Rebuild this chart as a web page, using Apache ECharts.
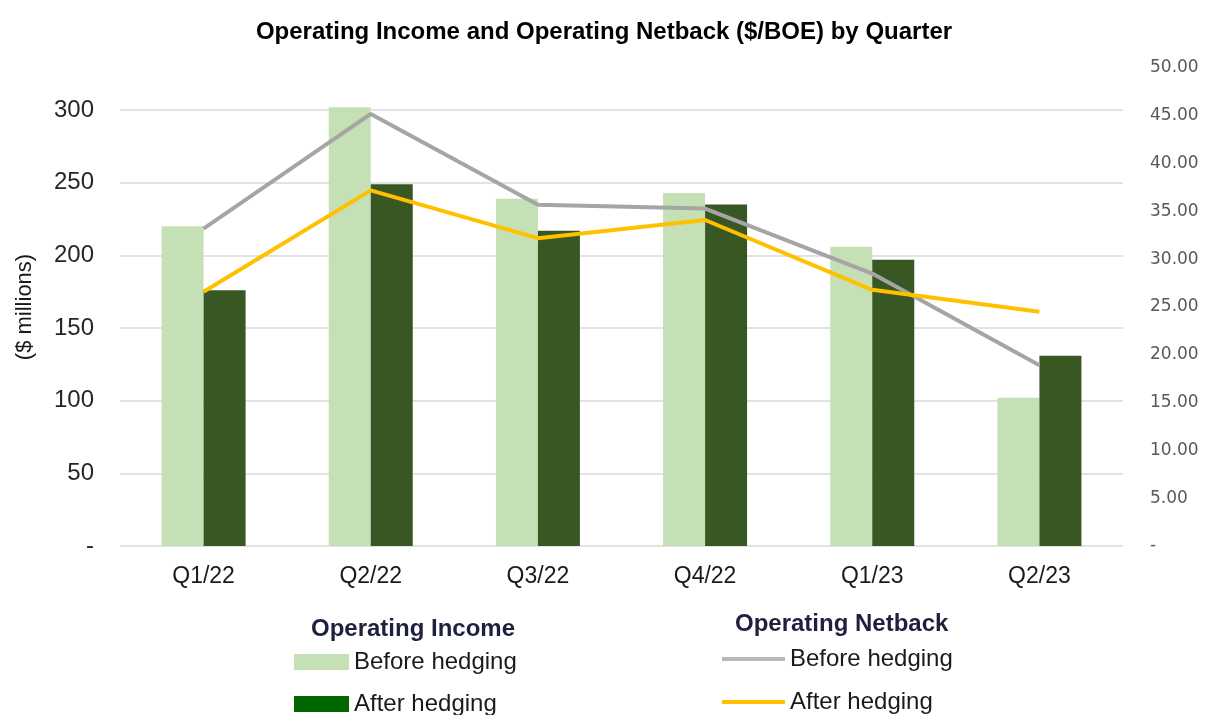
<!DOCTYPE html>
<html>
<head>
<meta charset="utf-8">
<style>
  html, body { margin: 0; padding: 0; background: #fff; }
  #chart { width: 1208px; height: 715px; }
</style>
<script src="https://cdn.jsdelivr.net/npm/echarts@6/dist/echarts.min.js"></script>
</head>
<body>
<div id="chart"></div>
<script>
const categories = ["Q1/22", "Q2/22", "Q3/22", "Q4/22", "Q1/23", "Q2/23"];
// Operating income, $ millions
const incomeBefore = [220, 302, 239, 243, 206, 102];
const incomeAfter = [176, 249, 217, 235, 197, 131];
// Operating netback, $/BOE
const netbackBefore = [33.2, 45.2, 35.7, 35.3, 28.5, 18.9];
const netbackAfter = [26.6, 37.2, 32.2, 34.1, 26.8, 24.5];

const chart = echarts.init(document.getElementById("chart"));

// same labels in both legend groups, so series get a prefix that the formatter drops
const names = {
  incBefore: "Operating Income: Before hedging",
  incAfter: "Operating Income: After hedging",
  netBefore: "Operating Netback: Before hedging",
  netAfter: "Operating Netback: After hedging"
};
const shortName = function(n) {
  return n.split(": ")[1];
};
const font = "Liberation Sans";

chart.setOption({
  animation: false,
  title: [
    {
      text: "Operating Income and Operating Netback ($/BOE) by Quarter",
      left: "center",
      top: 15,
      textStyle: { fontFamily: font, fontSize: 24, fontWeight: "bold", color: "#000" }
    },
    {
      text: "Operating Income",
      left: 306,
      top: 612,
      textStyle: { fontFamily: font, fontSize: 24, fontWeight: "bold", color: "#1f2040" }
    },
    {
      text: "Operating Netback",
      left: 730,
      top: 607,
      textStyle: { fontFamily: font, fontSize: 24, fontWeight: "bold", color: "#1f2040" }
    }
  ],
  legend: [
    {
      orient: "vertical",
      left: 294,
      top: 650,
      width: 260,
      height: 100,
      padding: 0,
      icon: "rect",
      itemWidth: 55,
      itemHeight: 16,
      itemGap: 18,
      formatter: shortName,
      textStyle: { fontFamily: font, fontSize: 24, lineHeight: 20, color: "#1a1a1a" },
      data: [
        { name: names.incBefore },
        { name: names.incAfter, itemStyle: { color: "#006600" } }
      ]
    },
    {
      orient: "vertical",
      left: 722,
      top: 647,
      width: 260,
      height: 100,
      padding: 0,
      icon: "rect",
      itemWidth: 63,
      itemHeight: 4,
      itemGap: 19,
      formatter: shortName,
      textStyle: { fontFamily: font, fontSize: 24, lineHeight: 20, color: "#1a1a1a" },
      data: [
        { name: names.netBefore, itemStyle: { color: "#b8b8b8" } },
        { name: names.netAfter }
      ]
    }
  ],
  grid: { left: 120, right: 85, top: 68, bottom: 169 },
  xAxis: {
    type: "category",
    data: categories,
    axisLine: { show: false },
    axisTick: { show: false },
    axisLabel: { margin: 19, fontFamily: font, fontSize: 23, color: "#1a1a1a" }
  },
  yAxis: [
    {
      type: "value",
      min: 0,
      max: 329,
      interval: 50,
      name: "($ millions)",
      nameLocation: "middle",
      nameGap: 84,
      nameRotate: 90,
      nameTextStyle: { fontFamily: font, fontSize: 22, color: "#1a1a1a" },
      axisLine: { show: false },
      axisTick: { show: false },
      axisLabel: {
        margin: 26,
        fontFamily: font,
        fontSize: 24,
        color: "#262626",
        showMaxLabel: false,
        formatter: function(v) {
          if (v === 0) return "-";
          return v % 50 === 0 ? String(v) : "";
        }
      },
      splitLine: { show: true, showMaxLine: false, lineStyle: { color: "#d9d9d9", width: 1.5 } }
    },
    {
      type: "value",
      min: 0,
      max: 50,
      interval: 5,
      position: "right",
      axisLine: { show: false },
      axisTick: { show: false },
      axisLabel: {
        margin: 27,
        fontFamily: "DejaVu Sans",
        fontSize: 17,
        color: "#595959",
        formatter: function(v) {
          return v === 0 ? "-" : v.toFixed(2);
        }
      },
      splitLine: { show: false }
    }
  ],
  series: [
    {
      name: names.incBefore,
      type: "bar",
      yAxisIndex: 0,
      data: incomeBefore,
      barWidth: 42,
      barGap: "0%",
      itemStyle: { color: "#c5e0b4" }
    },
    {
      name: names.incAfter,
      type: "bar",
      yAxisIndex: 0,
      data: incomeAfter,
      barWidth: 42,
      itemStyle: { color: "#385723" }
    },
    {
      name: names.netBefore,
      type: "line",
      yAxisIndex: 1,
      data: netbackBefore,
      symbol: "none",
      z: 5,
      lineStyle: { color: "#a5a5a5", width: 4 },
      itemStyle: { color: "#a5a5a5" }
    },
    {
      name: names.netAfter,
      type: "line",
      yAxisIndex: 1,
      data: netbackAfter,
      symbol: "none",
      z: 6,
      lineStyle: { color: "#ffc000", width: 4 },
      itemStyle: { color: "#ffc000" }
    }
  ]
});
</script>
</body>
</html>
